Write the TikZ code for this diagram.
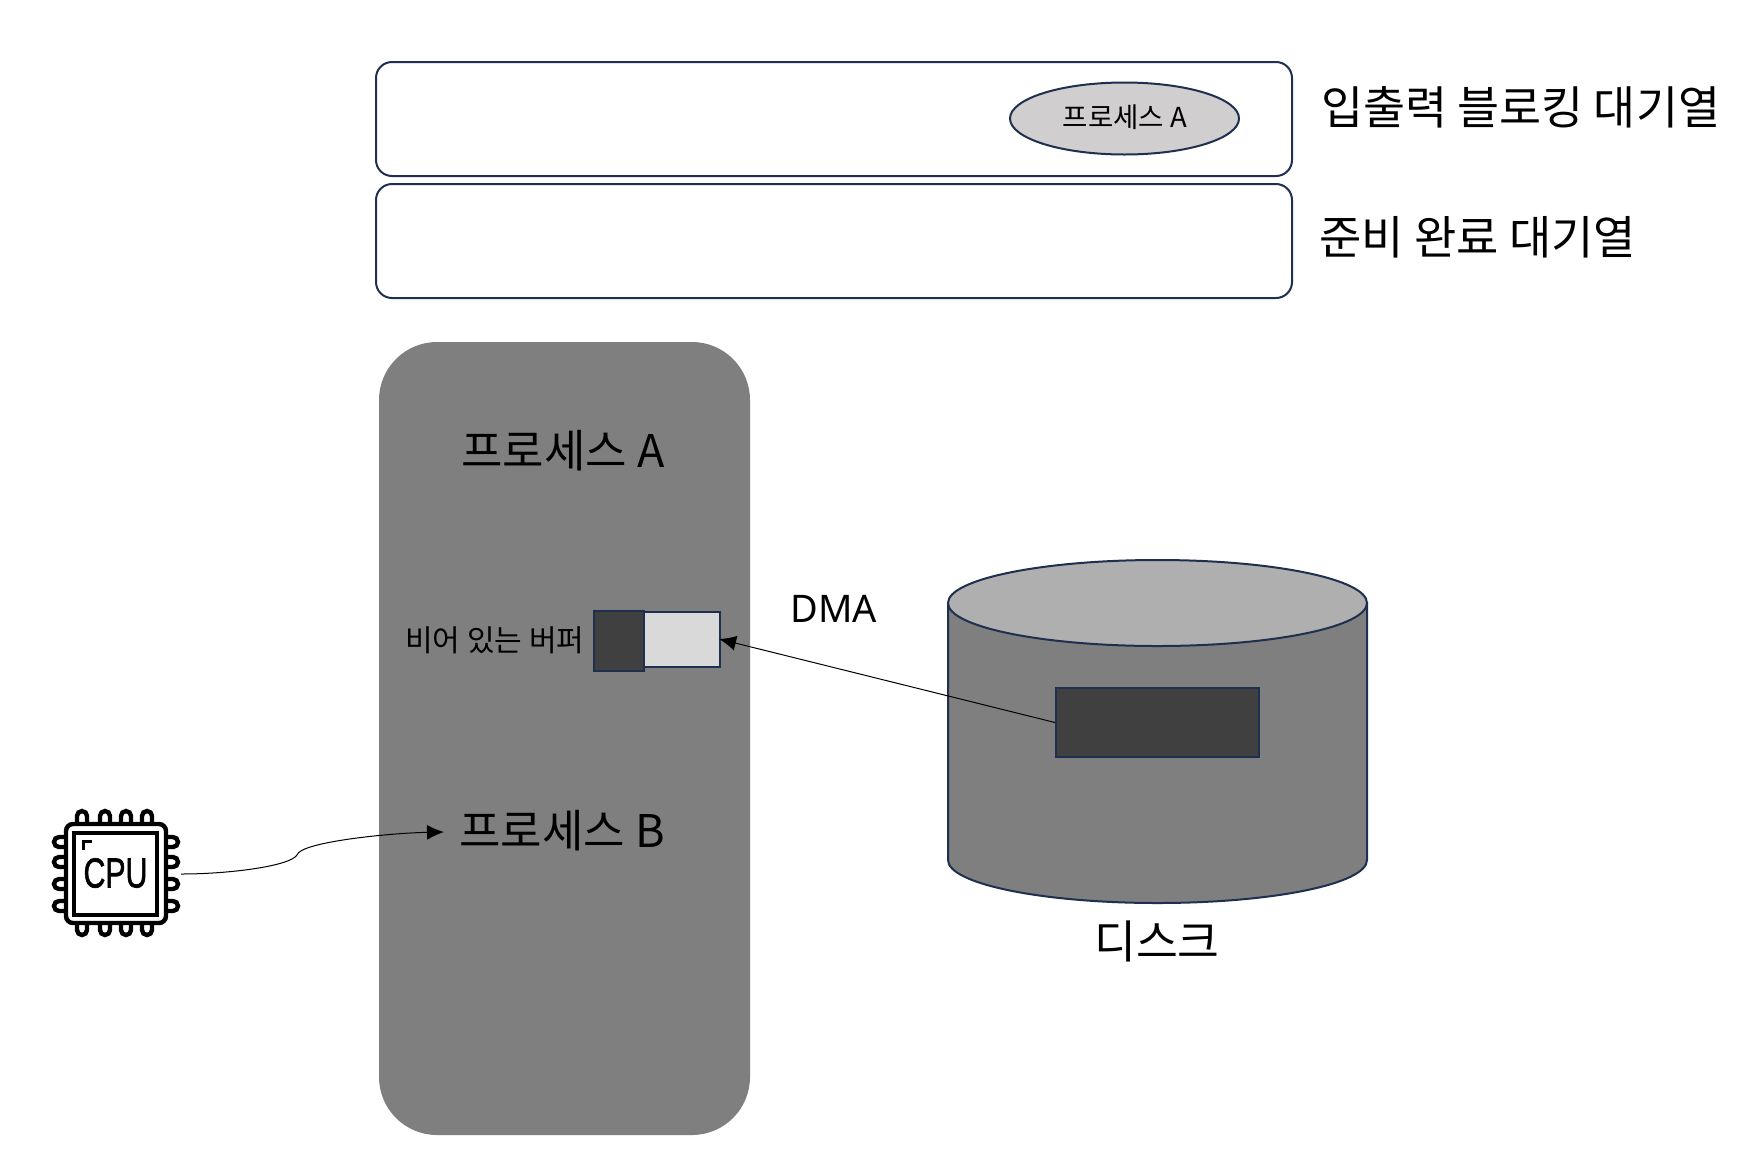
\documentclass[tikz,border=0pt]{standalone}
\usepackage{fontspec}
\setmainfont{Noto Sans}
\newfontfamily\kr{Noto Sans CJK KR}
\newfontfamily\cpufont[FakeBold=1.6]{Liberation Sans}
\usetikzlibrary{arrows.meta,shapes.geometric}
\definecolor{navy}{HTML}{1F2F4F}
\definecolor{midgray}{HTML}{7F7F7F}
\definecolor{darkgray}{HTML}{404040}
\definecolor{lightfill}{HTML}{D9D9D9}
\definecolor{ellfill}{HTML}{D0CECE}
\definecolor{disktop}{HTML}{AFAFAF}
\tikzset{
  x=1pt,y=-1pt,
  queuebox/.style={draw=navy,line width=2pt,fill=white,rounded corners=16pt,minimum width=916pt,minimum height=114pt,inner sep=0pt},
  plain/.style={draw=navy,line width=2pt,inner sep=0pt},
  lab/.style={inner sep=0pt,text=black,font=\kr\fontsize{#1}{#1}\selectfont},
  conn/.style={draw=black,line width=1pt,-{Latex[length=17pt,width=15pt]}},
  icon/.style={draw=black,line width=4.4pt,line cap=round},
}
\begin{document}
\begin{tikzpicture}
\useasboundingbox[fill=white] (0,0) rectangle (1750,1160);
% queues
\node[queuebox] (q1) at (834,119) {};
\node[queuebox] (q2) at (834,241) {};
\node[plain,ellipse,fill=ellfill,minimum width=229pt,minimum height=72pt] (pa) at (1124.5,118.5) {};
\node[lab=27.5] (pat) at (1125,117) {프로세스 A};
\node[lab=45.7,anchor=west] (q1t) at (1321,107) {입출력 블로킹 대기열};
\node[lab=46,anchor=west] (q2t) at (1319,237) {준비 완료 대기열};
% memory
\node[fill=midgray,rounded corners=58pt,minimum width=371pt,minimum height=793pt,inner sep=0pt] (mem) at (564.5,738.5) {};
\node[lab=45] (pA) at (563,451) {프로세스 A};
\node[lab=45] (pB) at (562,831) {프로세스 B};
\node[lab=30,anchor=east] (buft) at (584.5,640) {비어 있는 버퍼};
\node[plain,fill=lightfill,minimum width=76pt,minimum height=55pt] (bufl) at (682,639.5) {};
\node[plain,fill=darkgray,minimum width=50pt,minimum height=60pt] (bufd) at (619,640.5) {};
% disk
\path[fill=midgray,draw=navy,line width=2pt] (948,603) -- (948,860) arc[start angle=180,end angle=360,x radius=209.5pt,y radius=43pt] -- (1367,603) -- cycle;
\node[plain,ellipse,fill=disktop,minimum width=419pt,minimum height=86pt] (disk) at (1157.5,603) {};
\node[plain,fill=darkgray,minimum width=203pt,minimum height=69pt] (blk) at (1157.5,722.5) {};
\node[lab=45.5] (diskt) at (1157,941) {디스크};
\node[inner sep=0pt,font=\fontsize{38}{38}\selectfont,text=black] (dma) at (834,609) {DMA};
% CPU icon
\foreach \p in {82,105,126,147}{
  \draw[icon] (\p-5,823) -- (\p-5,816) arc[start angle=180,end angle=0,radius=5pt] -- (\p+5,823);
  \draw[icon] (\p-5,924) -- (\p-5,930) arc[start angle=180,end angle=360,radius=5pt] -- (\p+5,924);
}
\foreach \p in {842,862,884,906}{
  \draw[icon] (65,\p-5) -- (59,\p-5) arc[start angle=90,end angle=270,radius=5pt] -- (65,\p+5);
  \draw[icon] (167,\p-5) -- (173,\p-5) arc[start angle=90,end angle=-90,radius=5pt] -- (167,\p+5);
}
\node[draw=black,line width=4.4pt,fill=white,rounded corners=7pt,minimum width=100pt,minimum height=99pt,inner sep=0pt] (chip) at (116,873.5) {};
\node[draw=black,line width=4pt,minimum width=83pt,minimum height=82pt,inner sep=0pt] (core) at (115,873.5) {};
\draw[black,line width=3.8pt] (83.5,850) -- (83.5,841.5) -- (92,841.5);
\node[inner sep=0pt,font=\cpufont\fontsize{42}{42}\selectfont,xscale=0.72,text=black] (cput) at (115.5,873) {CPU};
\coordinate (cpuout) at (181,874);
\coordinate (pBin) at (444,832);
% connectors
\draw[conn] (cpuout) .. controls (230,874) and (290,866) .. (297,855) .. controls (300,842) and (390,833) .. (pBin);
\draw[conn,shorten >=-2pt] (blk.west) -- (bufl.east);
\end{tikzpicture}
\end{document}
